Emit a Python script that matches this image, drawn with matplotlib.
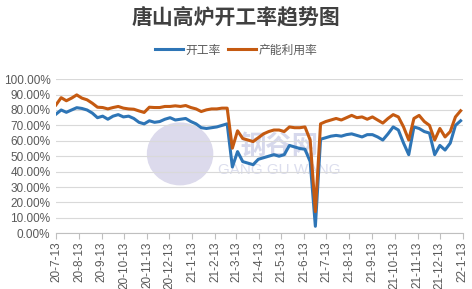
import matplotlib.pyplot as plt
from matplotlib.patches import Ellipse
import pandas as pd

plt.rcParams['font.family'] = ['Noto Sans CJK SC', 'DejaVu Sans']

# weekly data, 2020-07-13 onwards
start = '2020-07-13'
kaigong = [77.3, 80, 78.5, 80, 81.5, 81, 80, 78, 75, 76, 74, 76, 77, 75.5, 76, 74.5,
           72, 71, 73, 72, 72.5, 74, 75, 73.5, 74, 74.5, 72.5, 71, 68.5, 68, 68.5, 69,
           70, 71, 43, 53, 46.5, 45.5, 44.5, 48, 49, 50, 51, 50, 51, 57, 56, 55, 54.5,
           46.5, 4.5, 61, 62, 63, 63.5, 63, 64, 64.5, 63.5, 62.5, 64, 64, 62.5, 60.5,
           64.5, 69, 67, 58.5, 51, 69, 68, 66, 65, 51, 57, 54, 58.5, 70, 73]
liyong = [83.3, 88, 86, 87.7, 89.8, 87.7, 86.6, 84.4, 81.8, 81.6, 80.7, 81.6, 82.3, 81.2,
          80.7, 80.5, 79.4, 78.4, 81.8, 81.6, 81.6, 82.3, 82.3, 82.7, 82.3, 82.9, 81.6,
          80.7, 79, 80.1, 80.7, 80.7, 81.2, 81.2, 55.2, 66.5, 61.5, 60.5, 59.5, 62, 64.5,
          66, 67, 67, 66, 69, 68.5, 68.5, 69, 60.5, 14, 71, 72.5, 73.5, 74.5, 73.5, 75,
          76.5, 75, 75.5, 74, 75.5, 73.5, 71.5, 74.5, 77, 75.5, 69, 60.5, 74.5, 76.5,
          72.5, 70, 60.5, 68, 62.5, 66, 75.5, 79.5]
tick_labels = ['20-7-13', '20-8-13', '20-9-13', '20-10-13', '20-11-13', '20-12-13',
               '21-1-13', '21-2-13', '21-3-13', '21-4-13', '21-5-13', '21-6-13',
               '21-7-13', '21-8-13', '21-9-13', '21-10-13', '21-11-13', '21-12-13',
               '22-1-13']

dates = pd.date_range(start, periods=len(kaigong), freq='7D')
tick_dates = pd.date_range(start, periods=len(tick_labels), freq=pd.DateOffset(months=1))

fig = plt.figure(figsize=(4.72, 2.89), dpi=100)
ax = fig.add_axes([0.1186, 0.193, 0.862, 0.533])

# faint watermark (logo + site name)
ax.add_patch(Ellipse((0.305, 0.515), 0.16, 0.40, transform=ax.transAxes,
                     color='#dcdaec', zorder=0))
ax.text(0.548, 0.567, '钢谷网', transform=ax.transAxes, fontsize=19, color='#d6d8ec',
        ha='center', va='center', zorder=0, fontweight='bold')
ax.text(0.548, 0.41, 'GANG GU WANG', transform=ax.transAxes, fontsize=11, color='#dcdeee',
        ha='center', va='center', zorder=0, family='Liberation Sans')

ax.plot(dates, [v / 100 for v in kaigong], color='#2e75b6', lw=2.2, label='开工率', zorder=3)
ax.plot(dates, [v / 100 for v in liyong], color='#c55a11', lw=2.2, label='产能利用率', zorder=3)

ax.set_ylim(0, 1)
ax.set_yticks([i / 10 for i in range(11)])
ax.set_yticklabels(['%.2f%%' % (i * 10) for i in range(11)], family='Liberation Sans')
ax.set_xlim(tick_dates[0], tick_dates[-1])
ax.set_xticks(tick_dates)
ax.set_xticklabels(tick_labels, rotation=90, family='Liberation Sans')

ax.grid(axis='y', color='#d9d9d9', lw=0.8)
ax.set_axisbelow(True)
for s in ['left', 'right', 'top']:
    ax.spines[s].set_visible(False)
ax.spines['bottom'].set_color('#bfbfbf')
ax.tick_params(axis='y', length=0, labelsize=8.5, colors='#595959', pad=4)
ax.tick_params(axis='x', length=4, color='#bfbfbf', labelsize=8.5, labelcolor='#595959', pad=2)

fig.text(0.5, 0.94, '唐山高炉开工率趋势图', ha='center', va='center', fontsize=15,
         fontweight='bold', color='#404040')
fig.legend(loc='center', bbox_to_anchor=(0.5, 0.827), ncol=2, frameon=False, fontsize=8.5,
           handlelength=2.4, columnspacing=0.6, handletextpad=0.2, labelcolor='#595959')

fig.savefig('out.png', dpi=100)
